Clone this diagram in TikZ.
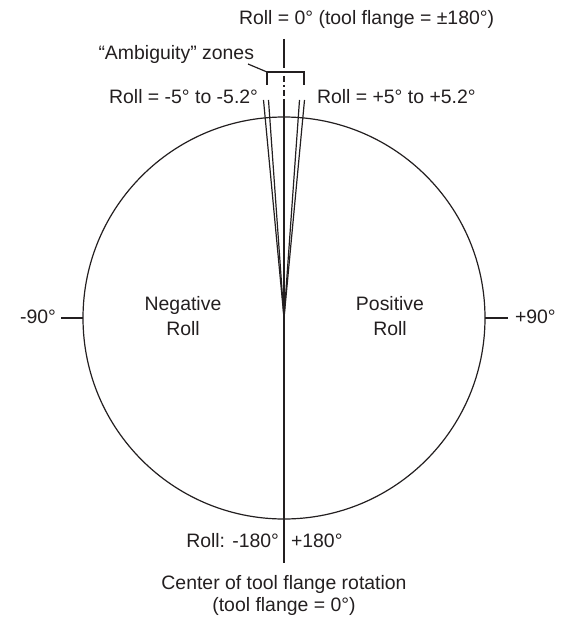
\documentclass[tikz,border=0pt]{standalone}
\usepackage{fontspec}
\setmainfont{Liberation Sans}
\definecolor{ink}{HTML}{231F20}
\begin{document}
\begin{tikzpicture}[x=1bp,y=-1bp,
  every node/.style={inner sep=0pt,outer sep=0pt,text=ink,font=\fontsize{19.5}{24}\selectfont},
  ln/.style={draw=ink,line width=1.2bp},
  dashdot/.style={draw=ink,line width=1.2bp,dash pattern=on 6bp off 3bp on 2bp off 3bp}]
\useasboundingbox (0,0) rectangle (565,619);
% key points
\coordinate (C) at (284,318);
\coordinate (topA) at (284,39);
\coordinate (topB) at (284,62);
\coordinate (topC) at (284,100);
\coordinate (bot) at (284,563);
\coordinate (fL2) at (263.5,100);
\coordinate (fL1) at (268.5,100);
\coordinate (fR1) at (299.5,100);
\coordinate (fR2) at (304.5,100);
\coordinate (L) at (83,318);
\coordinate (R) at (485,318);
\coordinate (Lt) at (61,318);
\coordinate (Rt) at (508,318);
\coordinate (bl) at (267,85);
\coordinate (blt) at (267,72);
\coordinate (brt) at (304,72);
\coordinate (br) at (304,85);
\coordinate (lead) at (248,64);
% circle
\draw[ln] (C) circle[radius=201];
% vertical axis
\draw[ln] (topA) -- (topB);
\draw[dashdot] (topB) -- (topC);
\draw[ln] (topC) -- (bot);
% fan lines
\draw[ln] (C) -- (fL2);
\draw[ln] (C) -- (fL1);
\draw[ln] (C) -- (fR1);
\draw[ln] (C) -- (fR2);
% ticks
\draw[ln] (Lt) -- (L);
\draw[ln] (R) -- (Rt);
% bracket and leader
\draw[ln] (bl) -- (blt) -- (brt) -- (br);
\draw[ln] (lead) -- (blt);
% labels
\node[anchor=base west] (t0) at (239,25) {Roll = 0° (tool flange = ±180°)};
\node[anchor=base east] (amb) at (254,60) {“Ambiguity” zones};
\node[anchor=base east] (neg5) at (258,104) {Roll = -5° to -5.2°};
\node[anchor=base west] (pos5) at (317,104) {Roll = +5° to +5.2°};
\node[anchor=base] (neg1) at (183,310) {Negative};
\node[anchor=base] (neg2) at (183,335) {Roll};
\node[anchor=base] (pos1) at (390,310) {Positive};
\node[anchor=base] (pos2) at (390,335) {Roll};
\node[anchor=base east] (m90) at (56,323) {-90°};
\node[anchor=base west] (p90) at (515,323) {+90°};
\node[anchor=base east] (m180) at (279,547) {Roll: -180°};
\node[anchor=base west] (p180) at (291,547) {+180°};
\node[anchor=base] (cen1) at (284,589) {Center of tool flange rotation};
\node[anchor=base] (cen2) at (284,611) {(tool flange = 0°)};
\end{tikzpicture}
\end{document}
